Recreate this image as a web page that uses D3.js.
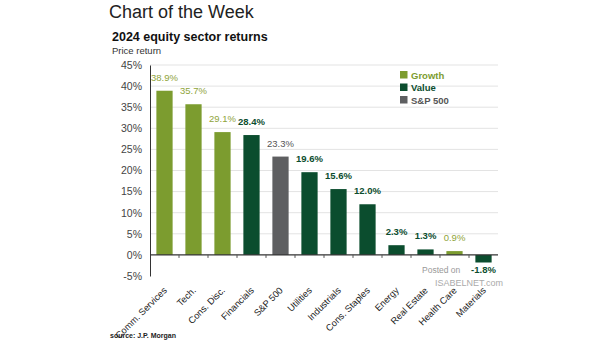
<!DOCTYPE html>
<html>
<head>
<meta charset="utf-8">
<script src="https://cdn.jsdelivr.net/npm/d3@7"></script>
<style>
  body { margin: 0; background: #fff; }
  text { font-family: "Liberation Sans", Arial, sans-serif; }
</style>
</head>
<body>
<svg id="chart" width="605" height="341"></svg>
<script>
// sector returns for 2024
const sectors = ["Comm. Services", "Tech.", "Cons. Disc.", "Financials", "S&P 500", "Utilities",
  "Industrials", "Cons. Staples", "Energy", "Real Estate", "Health Care", "Materials"];
const returns = [38.9, 35.7, 29.1, 28.4, 23.3, 19.6, 15.6, 12.0, 2.3, 1.3, 0.9, -1.8];
const groups = ["growth", "growth", "growth", "value", "sp", "value",
  "value", "value", "value", "value", "growth", "value"];
const yTicks = [-5, 0, 5, 10, 15, 20, 25, 30, 35, 40, 45];
const legendItems = [["growth", "Growth"], ["value", "Value"], ["sp", "S&P 500"]];

const barColor = {growth: "#7c9c2f", value: "#0b4d2e", sp: "#5e5f61"};
const labelColor = {growth: "#8fa43a", value: "#0b4d2e", sp: "#555"};

const svg = d3.select("#chart");
const margin = {left: 150, right: 107, top: 65, bottom: 65};
const W = 605, H = 341;

const x = d3.scaleBand().domain(sectors)
  .range([margin.left, W - margin.right]).paddingInner(0.44).paddingOuter(0.22);
const y = d3.scaleLinear().domain([-5, 45]).range([H - margin.bottom, margin.top]);

// titles
svg.append("text").attr("x", 109).attr("y", 18).attr("font-size", 18)
  .attr("fill", "#222").text("Chart of the Week");
svg.append("text").attr("x", 112).attr("y", 41).attr("font-size", 12.5)
  .attr("font-weight", "bold").attr("fill", "#111").text("2024 equity sector returns");
svg.append("text").attr("x", 112).attr("y", 54).attr("font-size", 9.5)
  .attr("fill", "#333").text("Price return");

// gridlines
svg.append("g").selectAll("line").data(yTicks.filter(d => d !== 0 && d !== -5)).join("line")
  .attr("x1", margin.left).attr("x2", W - margin.right)
  .attr("y1", d => y(d)).attr("y2", d => y(d))
  .attr("stroke", "#e3e3e3").attr("stroke-width", 1);

// y axis
const yAxis = svg.append("g").attr("transform", `translate(${margin.left},0)`)
  .call(d3.axisLeft(y).tickValues(yTicks).tickFormat(d => d + "%").tickSize(0).tickPadding(8));
yAxis.select(".domain").attr("stroke", "#333");
yAxis.selectAll("text").attr("font-size", 10.5).attr("fill", "#444")
  .attr("font-family", "Liberation Sans, Arial, sans-serif");

// bars
svg.append("g").selectAll("rect").data(sectors).join("rect")
  .attr("x", d => x(d))
  .attr("width", x.bandwidth())
  .attr("y", (d, i) => y(Math.max(0, returns[i])))
  .attr("height", (d, i) => Math.abs(y(returns[i]) - y(0)))
  .attr("fill", (d, i) => barColor[groups[i]]);

// zero line with ticks between bars
const step = x.step();
svg.append("line").attr("x1", margin.left).attr("x2", W - margin.right)
  .attr("y1", y(0)).attr("y2", y(0)).attr("stroke", "#333").attr("stroke-width", 1.2);
svg.append("g").selectAll("line").data(sectors.slice(1)).join("line")
  .attr("x1", d => x(d) - (step - x.bandwidth()) / 2)
  .attr("x2", d => x(d) - (step - x.bandwidth()) / 2)
  .attr("y1", y(0)).attr("y2", y(0) + 3).attr("stroke", "#555");

// value labels
svg.append("g").selectAll("text").data(sectors).join("text")
  .attr("x", d => x(d) + x.bandwidth() / 2)
  .attr("y", (d, i) => returns[i] >= 0 ? y(returns[i]) - 10 : y(returns[i]) + 11)
  .attr("text-anchor", "middle").attr("font-size", 9.5)
  .attr("font-weight", (d, i) => groups[i] === "value" ? "bold" : "normal")
  .attr("fill", (d, i) => labelColor[groups[i]])
  .text((d, i) => returns[i].toFixed(1) + "%");

// category labels
svg.append("g").selectAll("text").data(sectors).join("text")
  .attr("transform", d => `translate(${x(d) + x.bandwidth() / 2 + 3},${y(-5) + 15}) rotate(-45)`)
  .attr("text-anchor", "end").attr("font-size", 9.3).attr("fill", "#222")
  .text(d => d);

// legend
const lg = svg.append("g").attr("transform", "translate(400,71)");
legendItems.forEach(([k, label], i) => {
  lg.append("rect").attr("x", 0).attr("y", i * 12.5).attr("width", 7.5).attr("height", 7.5)
    .attr("fill", barColor[k]);
  lg.append("text").attr("x", 11).attr("y", i * 12.5 + 7.5).attr("font-size", 9.5)
    .attr("font-weight", "bold").attr("fill", k === "growth" ? "#7c9c2f" : k === "value" ? "#0b4d2e" : "#555")
    .text(label);
});

// watermark
svg.append("text").attr("x", 422).attr("y", 273).attr("font-size", 8.5)
  .attr("fill", "#999").text("Posted on");
svg.append("text").attr("x", 435).attr("y", 286).attr("font-size", 9)
  .attr("fill", "#aaa").text("ISABELNET.com");

// source
svg.append("text").attr("x", 110).attr("y", 338).attr("font-size", 7)
  .attr("font-weight", "bold").attr("fill", "#222").text("source: J.P. Morgan");
</script>
</body>
</html>
